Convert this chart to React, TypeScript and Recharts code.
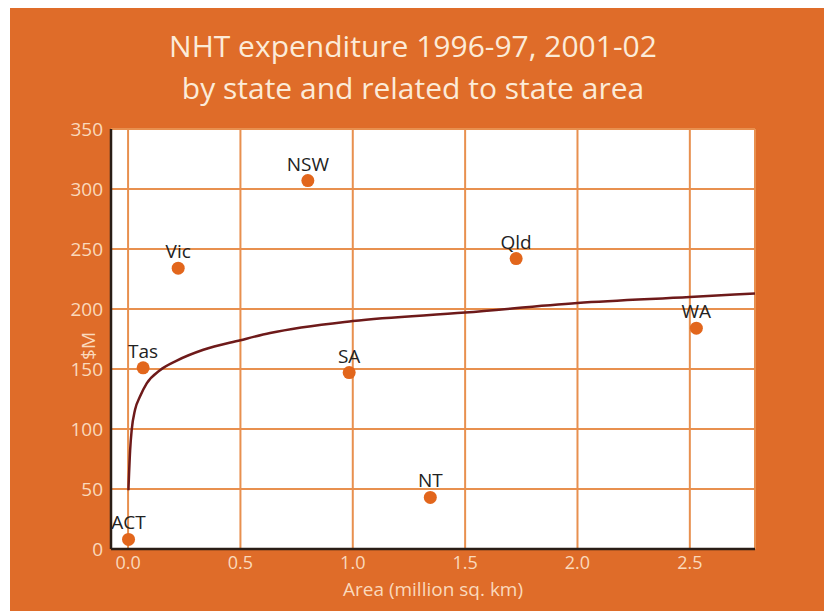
import React from 'react';
import { ComposedChart, Scatter, Line, XAxis, YAxis, CartesianGrid } from 'recharts';

// state points
const STATES = ['ACT', 'Tas', 'Vic', 'NSW', 'SA', 'Qld', 'NT', 'WA'];
const AREA = [0.002, 0.067, 0.223, 0.8, 0.984, 1.727, 1.345, 2.529];
const SPEND = [8, 151, 234, 307, 147, 242, 43, 184];

// trend curve, points
const TREND_X = [0.0015, 0.009, 0.016, 0.031, 0.053, 0.083, 0.142, 0.217, 0.335, 0.5, 0.632, 1.0, 1.5, 2.0, 2.5, 2.79];
const TREND_Y = [49, 82, 99, 116, 127, 138, 149, 157, 166, 174, 180, 190, 197, 205, 210, 213];

const X_TICKS = [0, 0.5, 1, 1.5, 2, 2.5];
const Y_TICKS = [0, 50, 100, 150, 200, 250, 300, 350];

const FONT = "'Open Sans', sans-serif";
const BG = '#DF6C29';
const TICK = '#FAD9BC';
const GRID = '#E8904F';
const AXIS = '#2a1d16';

const points = STATES.map((name, i) => ({ name, x: AREA[i], y: SPEND[i] }));
const trend = TREND_X.map((x, i) => ({ x, y: TREND_Y[i] }));

const Dot = (props: any) => {
  const { cx, cy, payload } = props;
  return (
    <g>
      <circle cx={cx} cy={cy} r={6.5} fill="#E2661C" />
      <text x={cx} y={cy - 10} textAnchor="middle" fontFamily={FONT} fontSize={19} fill="#222">
        {payload.name}
      </text>
    </g>
  );
};

const App: React.FC = () => {
  return (
    <div style={{ position: 'absolute', left: 10, top: 8, width: 814, height: 603, background: BG, fontFamily: FONT }}>
      <div
        style={{
          position: 'absolute',
          left: 0,
          top: 17,
          width: 806,
          textAlign: 'center',
          color: '#FCEBD8',
          fontSize: 30,
          lineHeight: '42px',
        }}
      >
        NHT expenditure 1996-97, 2001-02
        <br />
        by state and related to state area
      </div>
      <div style={{ position: 'absolute', left: 0, top: 0 }}>
        <ComposedChart width={814} height={603} margin={{ top: 121, right: 69, bottom: 0, left: 0 }}>
          <CartesianGrid fill="#ffffff" stroke={GRID} strokeWidth={2} />
          <XAxis
            type="number"
            dataKey="x"
            domain={[-0.076, 2.79]}
            ticks={X_TICKS}
            allowDataOverflow
            height={62}
            axisLine={{ stroke: AXIS, strokeWidth: 2.5 }}
            tickLine={false}
            tickMargin={1}
            tick={{ fill: TICK, fontSize: 18, fontFamily: FONT }}
            tickFormatter={(v: number) => v.toFixed(1)}
            label={{
              content: (p: any) => (
                <text
                  x={p.viewBox.x + p.viewBox.width / 2}
                  y={p.viewBox.y + 47}
                  textAnchor="middle"
                  fill={TICK}
                  fontSize={19}
                  fontFamily={FONT}
                >
                  Area (million sq. km)
                </text>
              ),
            }}
          />
          <YAxis
            type="number"
            dataKey="y"
            domain={[0, 350]}
            ticks={Y_TICKS}
            allowDataOverflow
            width={101}
            axisLine={{ stroke: AXIS, strokeWidth: 2.5 }}
            tickLine={false}
            tick={{ fill: TICK, fontSize: 19, fontFamily: FONT }}
            label={{
              content: (p: any) => {
                const cx = p.viewBox.x + 78;
                const cy = p.viewBox.y + p.viewBox.height / 2 + 7;
                return (
                  <text
                    x={cx}
                    y={cy}
                    transform={`rotate(-90 ${cx} ${cy})`}
                    textAnchor="middle"
                    dominantBaseline="central"
                    fill={TICK}
                    fontSize={19}
                    fontFamily={FONT}
                  >
                    $M
                  </text>
                );
              },
            }}
          />
          <YAxis
            yAxisId="r"
            orientation="right"
            type="number"
            domain={[0, 350]}
            width={0}
            axisLine={{ stroke: AXIS, strokeWidth: 2.5 }}
            tick={false}
            tickLine={false}
          />
          <Line
            data={trend}
            dataKey="y"
            type="monotone"
            stroke="#6E1A1A"
            strokeWidth={2.5}
            dot={false}
            isAnimationActive={false}
          />
          <Scatter data={points} dataKey="y" shape={<Dot />} isAnimationActive={false} />
        </ComposedChart>
      </div>
    </div>
  );
};

export default App;
